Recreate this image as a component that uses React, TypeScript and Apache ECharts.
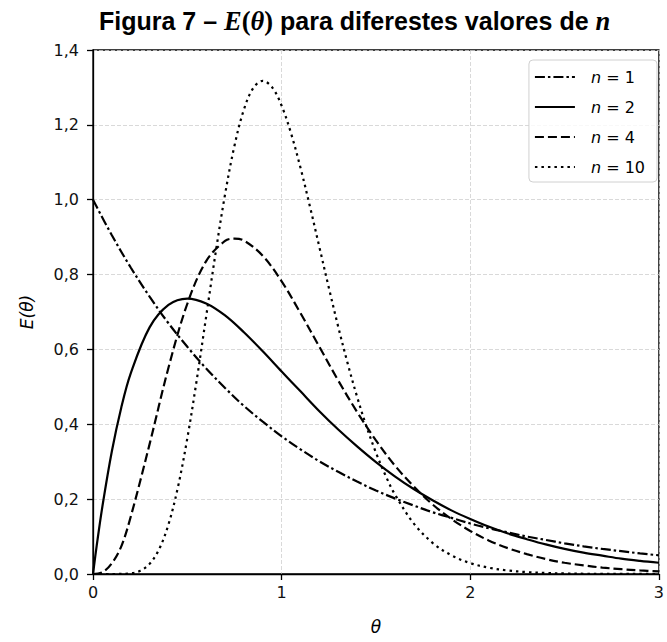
import React, { useEffect, useRef } from "react";
import * as echarts from "echarts";

// θ grid and E(θ) values
const theta1 = [0, 0.1, 0.2, 0.3, 0.4, 0.5, 0.6, 0.7, 0.8, 0.9, 1.0, 1.1, 1.2, 1.3, 1.4, 1.5, 1.6, 1.7, 1.8, 1.9, 2.0, 2.1, 2.2, 2.3, 2.4, 2.5, 2.6, 2.7, 2.8, 2.9, 3.0];
const e1 = [1.0, 0.905, 0.819, 0.741, 0.67, 0.607, 0.549, 0.497, 0.449, 0.407, 0.368, 0.333, 0.301, 0.273, 0.247, 0.223, 0.202, 0.183, 0.165, 0.15, 0.135, 0.122, 0.111, 0.1, 0.091, 0.082, 0.074, 0.067, 0.061, 0.055, 0.05];

const theta2 = [0, 0.02, 0.05, 0.1, 0.15, 0.2, 0.3, 0.4, 0.5, 0.6, 0.7, 0.8, 0.9, 1.0, 1.1, 1.2, 1.3, 1.4, 1.5, 1.6, 1.7, 1.8, 1.9, 2.0, 2.1, 2.2, 2.3, 2.4, 2.5, 2.6, 2.7, 2.8, 2.9, 3.0];
const e2 = [0, 0.077, 0.181, 0.328, 0.445, 0.536, 0.659, 0.719, 0.736, 0.723, 0.691, 0.646, 0.595, 0.541, 0.488, 0.435, 0.386, 0.341, 0.299, 0.261, 0.227, 0.197, 0.17, 0.147, 0.126, 0.108, 0.093, 0.079, 0.067, 0.057, 0.049, 0.041, 0.035, 0.03];

const theta4 = [0, 0.05, 0.1, 0.15, 0.2, 0.3, 0.4, 0.5, 0.6, 0.7, 0.75, 0.8, 0.9, 1.0, 1.1, 1.2, 1.3, 1.4, 1.5, 1.6, 1.7, 1.8, 1.9, 2.0, 2.1, 2.2, 2.3, 2.4, 2.5, 2.6, 2.7, 2.8, 2.9, 3.0];
const e4 = [0, 0.0044, 0.0286, 0.074, 0.153, 0.347, 0.551, 0.722, 0.836, 0.89, 0.896, 0.891, 0.85, 0.782, 0.697, 0.607, 0.517, 0.433, 0.357, 0.29, 0.234, 0.186, 0.147, 0.115, 0.089, 0.069, 0.053, 0.04, 0.03, 0.023, 0.017, 0.013, 0.0095, 0.0071];

const theta10 = [0, 0.1, 0.2, 0.25, 0.3, 0.35, 0.4, 0.45, 0.5, 0.55, 0.6, 0.65, 0.7, 0.75, 0.8, 0.85, 0.9, 0.95, 1.0, 1.05, 1.1, 1.15, 1.2, 1.25, 1.3, 1.35, 1.4, 1.45, 1.5, 1.55, 1.6, 1.7, 1.8, 1.9, 2.0, 2.1, 2.2, 2.3, 2.4, 2.5, 2.6, 2.7, 2.8, 2.9, 3.0];
const e10 = [0, 0.0, 0.0019, 0.0086, 0.027, 0.0656, 0.1323, 0.2316, 0.3627, 0.5187, 0.6884, 0.8581, 1.014, 1.1444, 1.2408, 1.2987, 1.3176, 1.3, 1.2511, 1.1772, 1.0853, 0.982, 0.8736, 0.7652, 0.6605, 0.5627, 0.4734, 0.3938, 0.3241, 0.264, 0.2131, 0.1353, 0.0833, 0.0498, 0.0291, 0.0166, 0.0093, 0.0051, 0.0027, 0.0014, 0.0007, 0.0004, 0.0002, 0.0001, 0.00005];

const seriesNames = ["n1", "n2", "n4", "n10"];
const legendNumbers = ["1", "2", "4", "10"];
const xTicks = [0, 1, 2, 3];

const pairs = (xs: number[], ys: number[]) => xs.map((x, i) => [x, ys[i]]);

export default function App() {
  const ref = useRef<HTMLDivElement>(null);
  useEffect(() => {
    if (!ref.current) return;
    const chart = echarts.init(ref.current, null, { renderer: "svg" });
    const dashTypes: any[] = [[10, 3, 2.5, 3], "solid", [9, 4], [2.5, 4]];
    const datasets = [pairs(theta1, e1), pairs(theta2, e2), pairs(theta4, e4), pairs(theta10, e10)];
    const tickFont = { fontFamily: "DejaVu Sans", fontSize: 16, color: "#111" };
    const legendMap: Record<string, string> = {};
    seriesNames.forEach((s, i) => (legendMap[s] = legendNumbers[i]));
    chart.setOption({
      animation: false,
      backgroundColor: "#fff",
      title: {
        text: "{b|Figura 7 – }{m|E}{p|(}{m|θ}{p|)}{b| para diferestes valores de }{m|n}",
        left: 99,
        top: 7,
        padding: 0,
        textStyle: {
          rich: {
            b: { fontFamily: "Liberation Sans", fontWeight: "bold", fontSize: 25, color: "#000" },
            m: { fontFamily: "Liberation Serif", fontStyle: "italic", fontWeight: "bold", fontSize: 26.5, color: "#000" },
            p: { fontFamily: "Liberation Serif", fontWeight: "bold", fontSize: 26.5, color: "#000" },
          },
        },
      },
      grid: {
        left: 93,
        right: 2,
        top: 50,
        bottom: 68,
        show: true,
        borderColor: "#000",
        borderWidth: 1.3,
        backgroundColor: "transparent",
      },
      legend: {
        orient: "vertical",
        right: 10,
        top: 60,
        itemWidth: 40,
        itemHeight: 14,
        itemGap: 14,
        padding: [9, 12, 7, 5],
        backgroundColor: "rgba(255,255,255,0.8)",
        borderColor: "#d0d0d0",
        borderWidth: 1,
        borderRadius: 4,
        data: seriesNames,
        itemStyle: { color: "rgba(0,0,0,0)", borderWidth: 0, opacity: 0 },
        formatter: (name: string) => "{i|n}{t| = " + legendMap[name] + "}",
        textStyle: {
          padding: [0, 0, 0, 11],
          rich: {
            i: { fontFamily: "DejaVu Sans", fontStyle: "italic", fontSize: 16, color: "#000" },
            t: { fontFamily: "DejaVu Sans", fontSize: 16, color: "#000" },
          },
        },
      },
      xAxis: {
        type: "value",
        min: 0,
        max: 3,
        interval: 1,
        name: "θ",
        nameLocation: "middle",
        nameGap: 44,
        nameTextStyle: { fontFamily: "DejaVu Sans", fontStyle: "italic", fontSize: 17, color: "#000" },
        axisLine: { show: true, lineStyle: { color: "#000", width: 1.3 } },
        axisTick: { show: true, length: 6, lineStyle: { color: "#000", width: 1.3 } },
        axisLabel: {
          ...tickFont,
          margin: 10,
          formatter: (v: number) => (xTicks.includes(Math.round(v)) ? String(Math.round(v)) : ""),
        },
        splitLine: { show: true, lineStyle: { color: "#cfcfcf", type: [4, 2], width: 0.8 } },
      },
      yAxis: {
        type: "value",
        min: 0,
        max: 1.4,
        interval: 0.2,
        name: "E(θ)",
        nameLocation: "middle",
        nameGap: 58,
        nameRotate: 90,
        nameTextStyle: { fontFamily: "DejaVu Sans", fontStyle: "italic", fontSize: 17, color: "#000" },
        axisLine: { show: true, lineStyle: { color: "#000", width: 1.3 } },
        axisTick: { show: true, length: 6, lineStyle: { color: "#000", width: 1.3 } },
        axisLabel: {
          ...tickFont,
          margin: 14,
          formatter: (v: number) => v.toFixed(1).replace(".", ","),
        },
        splitLine: { show: true, lineStyle: { color: "#cfcfcf", type: [4, 2], width: 0.8 } },
      },
      series: seriesNames.map((name, i) => ({
        name,
        type: "line",
        data: datasets[i],
        symbol: "none",
        smooth: 0.35,
        clip: true,
        color: "#000",
        lineStyle: { color: "#000", width: 2.2, type: dashTypes[i] },
        z: 3,
      })),
    });
    return () => chart.dispose();
  }, []);
  return <div ref={ref} style={{ position: "fixed", left: 0, top: 0, width: 667, height: 642 }} />;
}
